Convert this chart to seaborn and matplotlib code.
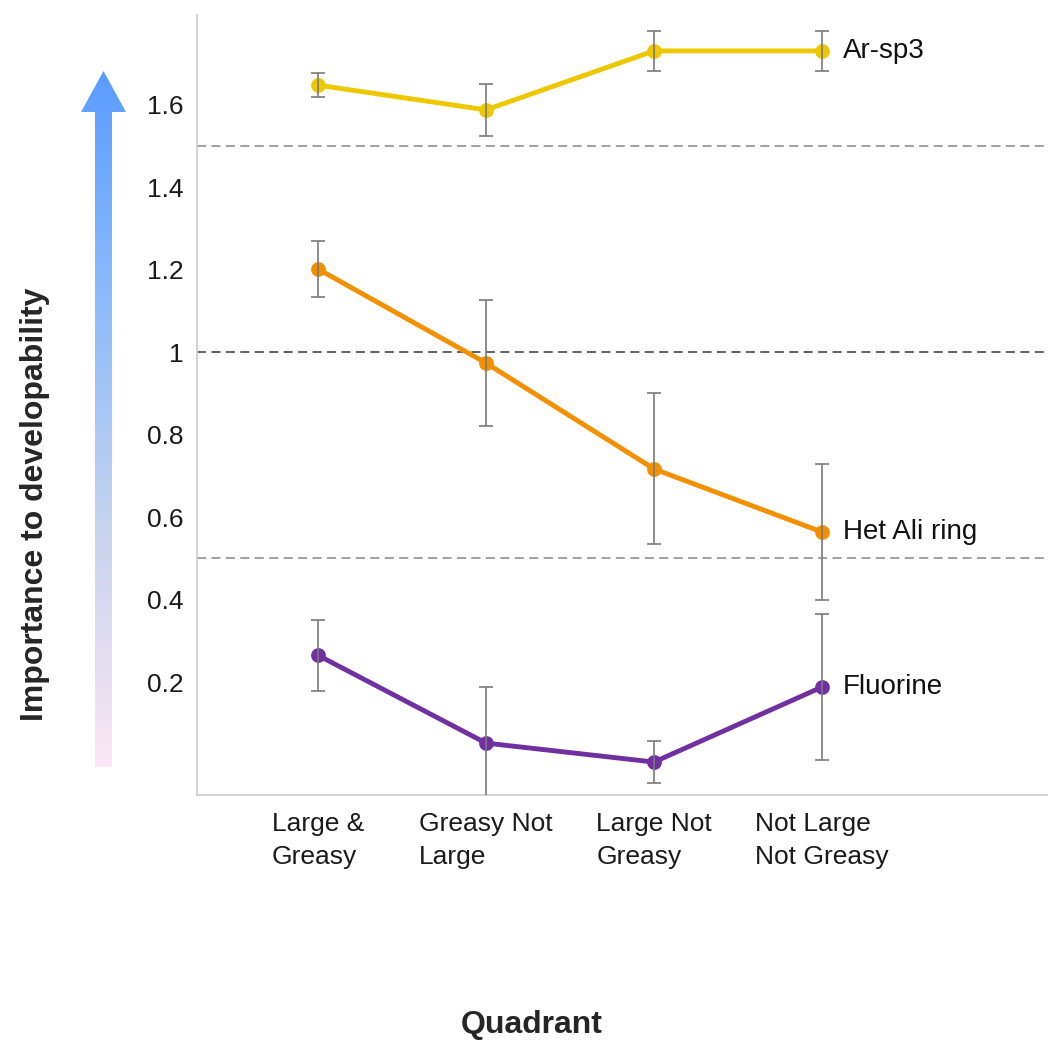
import numpy as np
import pandas as pd
import seaborn as sns
import matplotlib.pyplot as plt
from matplotlib.colors import LinearSegmentedColormap
from matplotlib.patches import Polygon

quadrants = ['Large &\nGreasy', 'Greasy Not\nLarge', 'Large Not\nGreasy', 'Not Large\nNot Greasy']
series_names = ['Ar-sp3', 'Het Ali ring', 'Fluorine']
ar_sp3 = [1.648, 1.588, 1.731, 1.731]
ar_sp3_err = [0.030, 0.063, 0.048, 0.048]
het_ali = [1.202, 0.974, 0.717, 0.564]
het_ali_err = [0.068, 0.152, 0.183, 0.166]
fluorine = [0.265, 0.052, 0.006, 0.188]
fluorine_err = [0.086, 0.136, 0.052, 0.176]
colors = ['#EDC800', '#F39000', '#7030A0']
yticks = [0.2, 0.4, 0.6, 0.8, 1.0, 1.2, 1.4, 1.6]
yticklabels = ['0.2', '0.4', '0.6', '0.8', '1', '1.2', '1.4', '1.6']
ref_lines = [1.5, 1.0, 0.5]

sns.set_style('white')
plt.rcParams['font.family'] = ['Liberation Sans', 'DejaVu Sans']

df = pd.DataFrame({
    'Quadrant': quadrants * 3,
    'Series': np.repeat(series_names, 4),
    'Value': ar_sp3 + het_ali + fluorine,
})
errs = [ar_sp3_err, het_ali_err, fluorine_err]
vals = [ar_sp3, het_ali, fluorine]

fig = plt.figure(figsize=(10.48, 10.45), dpi=100)
ax = fig.add_axes([0.188, 0.2392, 0.812, 0.7464])
ax.set_zorder(1)

#reference lines
for r in ref_lines:
    ax.axhline(r, color='#555555' if r == 1.0 else '#999999', lw=1.3,
               linestyle=(0, (5, 3)), zorder=1)

sns.pointplot(data=df, x='Quadrant', y='Value', hue='Series', palette=colors,
              errorbar=None, markers='o', markersize=8, linewidth=3.5,
              legend=False, ax=ax, zorder=2)

xs = np.arange(len(quadrants))
for v, e in zip(vals, errs):
    ax.errorbar(xs, v, yerr=e, fmt='none', ecolor='#7a7a7a', elinewidth=1.2,
                capsize=5, capthick=1.2, zorder=4)

for name, v in zip(series_names, vals):
    ax.annotate(name, xy=(xs[-1], v[-1]), xytext=(15, 0), textcoords='offset points',
                va='center', ha='left', fontsize=20, color='#111111')

ax.set_xlim(-0.72, 4.345)
ax.set_ylim(-0.074, 1.818)
ax.set_yticks(yticks)
ax.set_yticklabels(yticklabels)
ax.tick_params(axis='both', length=0, labelsize=19, colors='#1a1a1a')
ax.tick_params(axis='y', pad=10)
ax.tick_params(axis='x', pad=12)
for lbl in ax.get_xticklabels():
    lbl.set_linespacing(1.5)
    lbl.set_multialignment('left')
ax.set_xlabel('')
ax.set_ylabel('')
for s in ['top', 'right']:
    ax.spines[s].set_visible(False)
for s in ['left', 'bottom']:
    ax.spines[s].set_color('#d0d0d0')
    ax.spines[s].set_linewidth(1.3)

#Gradient arrow
aax = fig.add_axes([0, 0, 1, 1])
aax.set_zorder(0)
aax.set_xlim(0, 1048)
aax.set_ylim(1045, 0)
aax.axis('off')
cmap = LinearSegmentedColormap.from_list('arr', ['#FCE6F5', '#C8D4EE', '#8DBCFB', '#5A9CFF'])
grad = np.linspace(1, 0, 256).reshape(-1, 1)
im = aax.imshow(grad, cmap=cmap, aspect='auto', extent=[81, 126, 767, 71], origin='upper')
shape = Polygon([[95, 767], [112, 767], [112, 112], [126, 112], [103.5, 71],
                 [81, 112], [95, 112]], closed=True, transform=aax.transData,
                facecolor='none', edgecolor='none')
aax.add_patch(shape)
im.set_clip_path(shape)

fig.text(0.033, 0.517, 'Importance to developability', rotation=90, fontsize=23,
         fontweight='bold', ha='center', va='center')
fig.text(0.507, 0.019, 'Quadrant', fontsize=23, fontweight='bold', ha='center', va='center')

fig.savefig('out.png', dpi=100)
